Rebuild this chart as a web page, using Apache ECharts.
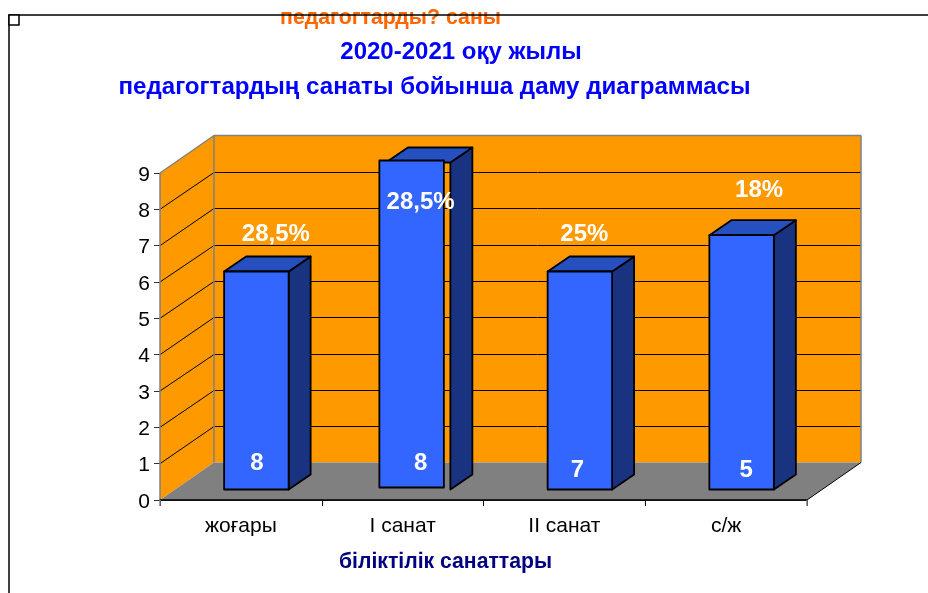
<!DOCTYPE html>
<html>
<head>
<meta charset="utf-8">
<title>педагогтардың санаты</title>
<style>
  html, body { margin: 0; padding: 0; background: #fff; }
  #chart { width: 928px; height: 593px; }
</style>
<script src="https://cdn.jsdelivr.net/npm/echarts@6/dist/echarts.min.js"></script>
</head>
<body>
<div id="chart"></div>
<script>
const categories = ['жоғары', 'I санат', 'II санат', 'с/ж']
const barValues = [6, 9, 6, 7]
const countLabels = ['8', '8', '7', '5']
const percentLabels = ['28,5%', '28,5%', '25%', '18%']
const yTicks = [0, 1, 2, 3, 4, 5, 6, 7, 8, 9]

const FONT = '"Liberation Sans", Arial, sans-serif'
// 3d look of the excel chart
const WALL_DEPTH = [54, -37.5]
const BAR_INSET = [15.5, -10.5]
const BAR_DEPTH = [22, -15]
const BAR_WIDTH = 64.5
// the front face of the 2nd bar sits off its box in the original
const FACE_SHIFT = [[0, 0], [-6.5, -2], [0, 0], [0, 0]]
// hand placed text, relative to the bar's band center and base
const COUNT_POS = [[16, -37], [18, -37], [13, -30], [20, -30]]
const PERCENT_POS = [[35, 0], [18, 0], [20, 0], [33, 0]]
const PERCENT_Y = [234, 202, 234, 190]

const poly = (points, fill) => ({
  type: 'polygon',
  shape: { points },
  style: { fill, stroke: 'none' }
})
const line = (x1, y1, x2, y2, stroke, lineWidth) => ({
  type: 'line',
  shape: { x1, y1, x2, y2 },
  style: { stroke, lineWidth }
})

function renderWalls (params, api) {
  const left = params.coordSys.x
  const right = left + params.coordSys.width
  const bottom = api.coord([0, 0])[1]
  const top = api.coord([0, yTicks[yTicks.length - 1]])[1]
  const dx = WALL_DEPTH[0]
  const dy = WALL_DEPTH[1]
  const children = [
    poly([[left + dx, top + dy], [right + dx, top + dy], [right + dx, bottom + dy], [left + dx, bottom + dy]], '#ff9900'),
    poly([[left, top], [left + dx, top + dy], [left + dx, bottom + dy], [left, bottom]], '#ff9900'),
    poly([[left, bottom], [left + dx, bottom + dy], [right + dx, bottom + dy], [right, bottom]], '#808080')
  ]
  yTicks.slice(1, -1).forEach(v => {
    const y = api.coord([0, v])[1]
    const back = Math.round(y + dy) + 0.5
    children.push(line(left, y, left + dx, back, '#000', 1))
    children.push(line(left + dx, back, right + dx, back, '#000', 1))
  })
  children.push(
    line(left, top, left + dx, top + dy, '#808080', 1.5),
    line(left + dx, top + dy, right + dx, top + dy, '#808080', 1.5),
    line(right + dx, top + dy, right + dx, bottom + dy, '#808080', 1.5),
    line(left + dx, top + dy, left + dx, bottom + dy, '#808080', 1.5),
    line(left, top, left, bottom, '#808080', 1.5),
    line(right, bottom, right + dx, bottom + dy, '#000', 1),
    line(left, bottom, right, bottom, '#000', 1.5),
    line(left, bottom, left, bottom + 6, '#808080', 1.5),
    line(right, bottom, right, bottom + 6, '#808080', 1.5)
  )
  return { type: 'group', children }
}

function renderBar (params, api) {
  const i = api.value(0)
  const center = api.coord([i, 0])[0]
  const x = center + BAR_INSET[0] - BAR_WIDTH / 2
  const base = api.coord([i, 0])[1] + BAR_INSET[1]
  const top = api.coord([i, api.value(1)])[1] + BAR_INSET[1]
  const dx = BAR_DEPTH[0]
  const dy = BAR_DEPTH[1]
  const w = BAR_WIDTH
  const shift = FACE_SHIFT[i]
  const edge = { stroke: '#000', lineWidth: 1.8, lineJoin: 'round' }
  return {
    type: 'group',
    children: [
      {
        type: 'polygon',
        shape: { points: [[x + w, top], [x + w + dx, top + dy], [x + w + dx, base + dy], [x + w, base]] },
        style: Object.assign({ fill: '#1a3380' }, edge)
      },
      {
        type: 'polygon',
        shape: { points: [[x, top], [x + dx, top + dy], [x + w + dx, top + dy], [x + w, top]] },
        style: Object.assign({ fill: '#264fc0' }, edge)
      },
      {
        type: 'rect',
        shape: { x: x + shift[0], y: top + shift[1], width: w, height: base - top },
        style: Object.assign({ fill: '#3366ff' }, edge)
      }
    ]
  }
}

function renderLabels (params, api) {
  const i = api.value(0)
  const center = api.coord([i, 0])[0]
  const base = api.coord([i, 0])[1]
  const text = (x, y, content) => ({
    type: 'text',
    style: {
      x,
      y,
      text: content,
      fill: '#fff',
      font: 'bold 24px ' + FONT,
      align: 'center',
      verticalAlign: 'middle'
    }
  })
  return {
    type: 'group',
    children: [
      text(center + COUNT_POS[i][0], base + COUNT_POS[i][1], countLabels[i]),
      text(center + PERCENT_POS[i][0], PERCENT_Y[i], percentLabels[i])
    ]
  }
}

const heading = (text, x, y, color, size) => ({
  text,
  left: x,
  top: y,
  textAlign: 'center',
  textVerticalAlign: 'middle',
  padding: 0,
  textStyle: { color, fontFamily: FONT, fontWeight: 'bold', fontSize: size }
})

const myChart = echarts.init(document.getElementById('chart'), null, { renderer: 'canvas' })
myChart.setOption({
  animation: false,
  backgroundColor: '#fff',
  title: [
    heading('педагогтарды? саны', 390.5, 18, '#ff6600', 21.3),
    heading('2020-2021 оқу жылы', 461, 52, '#0000ff', 24),
    heading('педагогтардың санаты бойынша даму диаграммасы', 434.5, 87, '#0000ff', 24.1),
    heading('біліктілік санаттары', 445.5, 562, '#000080', 21.2)
  ],
  grid: { left: 160, right: 121, top: 173, bottom: 93 },
  xAxis: {
    type: 'category',
    data: categories,
    axisLine: { lineStyle: { color: '#000', width: 1.5 } },
    axisTick: { show: true, alignWithLabel: false, length: 6, lineStyle: { color: '#000' } },
    axisLabel: { color: '#000', fontFamily: FONT, fontSize: 21, margin: 16 }
  },
  yAxis: {
    type: 'value',
    min: 0,
    max: 9,
    interval: 1,
    splitLine: { show: false },
    axisLine: { show: false },
    axisTick: { show: true, length: 6, lineStyle: { color: '#333' } },
    axisLabel: {
      margin: 10,
      formatter: '{a|{value}}',
      rich: { a: { color: '#000', fontFamily: FONT, fontSize: 21, padding: [4, 0, 0, 0] } }
    }
  },
  graphic: [
    // the sheet frame behind the chart
    { type: 'polyline', z: 100, shape: { points: [[9, 593], [9, 15], [928, 15]] }, style: { stroke: '#000', fill: 'none', lineWidth: 1.5 } },
    { type: 'rect', z: 100, shape: { x: 9, y: 15, width: 10, height: 10 }, style: { stroke: '#000', fill: '#fff', lineWidth: 1.5 } }
  ],
  series: [
    {
      type: 'custom',
      z: 1,
      silent: true,
      clip: false,
      renderItem: renderWalls,
      data: [[0, 0]]
    },
    {
      type: 'custom',
      z: 2,
      clip: false,
      renderItem: renderBar,
      encode: { x: 0, y: 1 },
      data: barValues.map((v, i) => [i, v])
    },
    {
      type: 'custom',
      z: 3,
      silent: true,
      clip: false,
      renderItem: renderLabels,
      encode: { x: 0, y: 1 },
      data: barValues.map((v, i) => [i, v])
    }
  ]
})
</script>
</body>
</html>
